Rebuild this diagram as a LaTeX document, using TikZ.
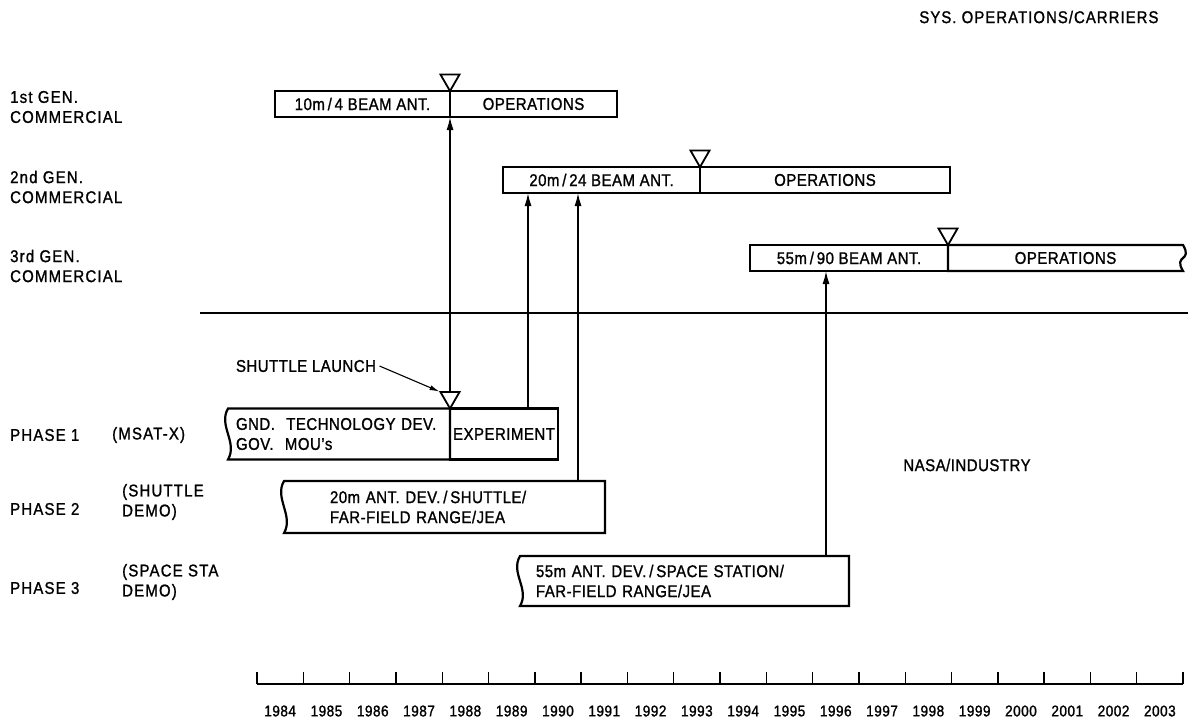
\documentclass[tikz,border=0pt]{standalone}
\usepackage{fontspec}
\setmainfont[FakeStretch=0.88, FakeBold=1.2, LetterSpace=3]{Liberation Sans}
\usetikzlibrary{shapes.geometric, arrows.meta, positioning}
\tikzstyle{bar} = [rectangle, minimum height=26pt, inner sep=0pt, outer sep=0pt, text centered, draw, line width=2.2pt]
\tikzstyle{phase} = [rectangle, inner ysep=0pt, outer sep=0pt, align=left]
\tikzstyle{flag} = [regular polygon, regular polygon sides=3, shape border rotate=180, minimum size=22pt, inner sep=0pt, outer sep=0pt, draw, line width=1.8pt, anchor=corner 1]
\tikzstyle{rowname} = [anchor=west, align=left, inner sep=0pt, font={\fontsize{17}{20}\selectfont\addfontfeature{LetterSpace=7}}]
\tikzstyle{arrow} = [line width=1.5pt, -{Latex[length=13pt,width=7pt]}]
\tikzstyle{thinarrow} = [line width=1.1pt, -{Latex[length=10pt,width=5pt]}, shorten >=1pt]
\tikzstyle{year} = [inner sep=0pt, font=\fontsize{15.5}{16}\selectfont]

% box with a broken (wavy) side
\newcommand{\brokenleft}[1]{\draw [line width=2.2pt] (#1.north west) .. controls +(-10,17) and +(10,-17) .. (#1.south west) -- (#1.south east) -- (#1.north east) -- cycle;}
\newcommand{\brokenright}[1]{\draw [line width=2.2pt] (#1.north east) .. controls +(10,17) and +(-10,-17) .. (#1.south east) -- (#1.south west) -- (#1.north west) -- cycle;}

\begin{document}
\begin{tikzpicture}[x=1pt, y=-1pt, font=\fontsize{17}{20}\selectfont]
\useasboundingbox (0,0) rectangle (1191,724);

% Headings
\node (title) [anchor=east, font={\fontsize{17}{20}\selectfont\addfontfeature{LetterSpace=6}}] at (1162,17) {SYS. OPERATIONS/CARRIERS};
\node (nasa) at (967,465) {NASA/INDUSTRY};

\node (gen1) [rowname] at (10,107) {1st GEN.\\COMMERCIAL};
\node (gen2) [rowname] at (10,187) {2nd GEN.\\COMMERCIAL};
\node (gen3) [rowname] at (10,266) {3rd GEN.\\COMMERCIAL};

\node (ph1lab) [rowname] at (10,435) {PHASE 1};
\node (ph1sub) [rowname] at (112,435) {(MSAT-X)};
\node (ph2lab) [rowname] at (10,509) {PHASE 2};
\node (ph2sub) [rowname] at (122,502) {(SHUTTLE\\DEMO)};
\node (ph3lab) [rowname] at (10,588) {PHASE 3};
\node (ph3sub) [rowname] at (122,582) {(SPACE STA\\DEMO)};

% Commercial generations
\node (ant1) [bar, minimum width=175pt, anchor=west] at (275,104) {10m\,/\,4 BEAM ANT.};
\node (ops1) [bar, minimum width=167pt, right=0pt of ant1] {OPERATIONS};
\node (ant2) [bar, minimum width=197pt, anchor=west] at (503,180) {20m\,/\,24 BEAM ANT.};
\node (ops2) [bar, minimum width=250pt, right=0pt of ant2] {OPERATIONS};
\node (ant3) [bar, minimum width=198pt, anchor=west] at (750,258) {55m\,/\,90 BEAM ANT.};
\node (ops3) [bar, draw=none, minimum width=235pt, right=0pt of ant3] {OPERATIONS};
\brokenright{ops3}

\node (tri1) [flag] at (ant1.north east) {};
\node (tri2) [flag] at (ant2.north east) {};
\node (tri3) [flag] at (ant3.north east) {};

\draw [line width=1.4pt] (200,313) -- (1188,313);

% NASA phases
\node (gnd) [phase, text width=206pt, inner xsep=8pt, minimum height=51pt, anchor=west] at (228,434) {GND.\ \ TECHNOLOGY DEV.\\GOV.\ \ MOU's};
\node (expt) [bar, minimum width=108pt, minimum height=51pt, right=0pt of gnd] {EXPERIMENT};
\brokenleft{gnd}
\node (tri4) [flag] at (gnd.north east) {};
\node (launch) at (306,366) {SHUTTLE LAUNCH};

\node (ph2) [phase, text width=229pt, inner xsep=46pt, minimum height=52pt, anchor=west] at (284,507) {20m ANT. DEV.\,/\,SHUTTLE/\\FAR-FIELD RANGE/JEA};
\brokenleft{ph2}
\node (ph3) [phase, text width=297pt, inner xsep=16pt, minimum height=50pt, anchor=west] at (520,581) {55m ANT. DEV.\,/\,SPACE STATION/\\FAR-FIELD RANGE/JEA};
\brokenleft{ph3}

% Connecting arrows
\coordinate (e1) at ([xshift=24pt]expt.north);
\coordinate (e2) at ([xshift=-27pt]ph2.north east);
\coordinate (e3) at ([xshift=-23pt]ph3.north east);
\draw [thinarrow] (launch.east) -- (tri4.corner 3);
\draw [arrow] (tri4.north) -- (ant1.south east);
\draw [arrow] (e1) -- (e1 |- ant2.south);
\draw [arrow] (e2) -- (e2 |- ant2.south);
\draw [arrow] (e3) -- (e3 |- ant3.south);

% Time axis
\draw [line width=1.6pt] (257,684) -- (1183,684);
\foreach \k in {0,...,20}
  \draw [line width=1.4pt] ({257+46.3*\k},684) -- ++(0,-12);
\foreach \yr [count=\i from 0] in {1984,...,2003}
  \node (y\yr) [year] at ({257+46.3*\i+23.15},711) {\yr};

\end{tikzpicture}
\end{document}
